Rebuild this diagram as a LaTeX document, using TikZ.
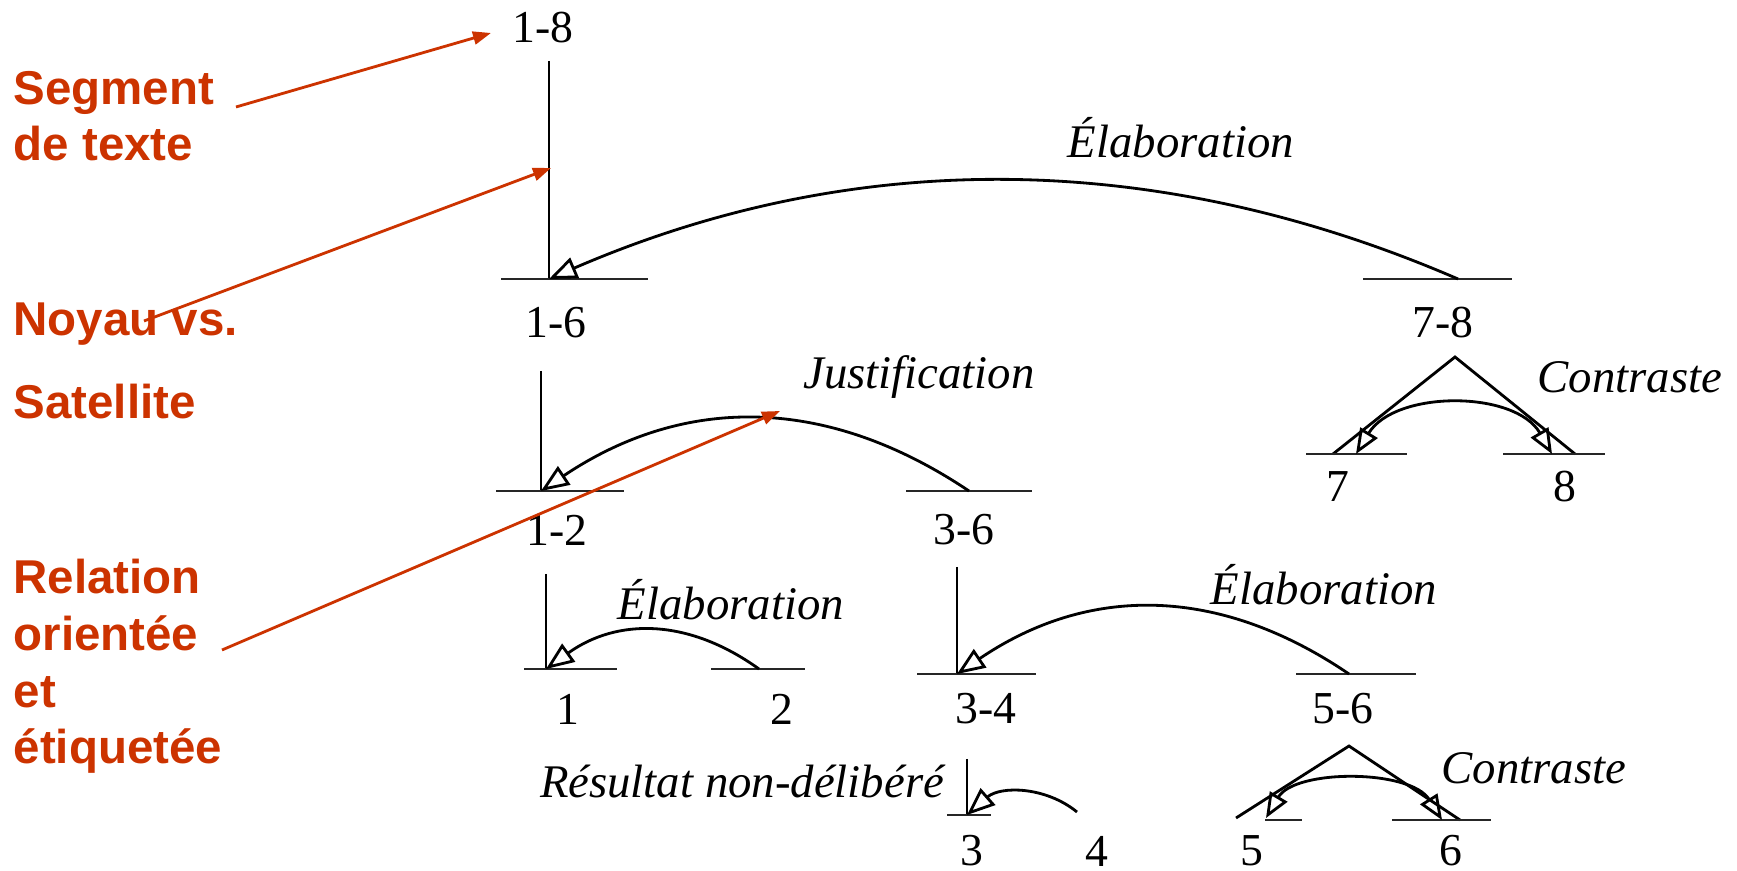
\documentclass[tikz,border=0pt]{standalone}
\usepackage{fontspec}
\setmainfont{Liberation Serif}
\newfontfamily\notefont{Liberation Sans}
\usetikzlibrary{arrows.meta}
\definecolor{notered}{RGB}{204,51,0}

\begin{document}
\begin{tikzpicture}[
  x=0.01cm, y=-0.01cm,
  seg/.style={line width=0.8pt},
  bar/.style={line width=0.8pt, black!85},
  rel/.style={line width=0.8pt, -{Triangle[open, length=2.8mm, width=2.2mm]}},
  multi/.style={line width=0.8pt,
    {Triangle[open, length=2.5mm, width=2mm]}-{Triangle[open, length=2.5mm, width=2mm]}},
  num/.style={font=\fontsize{13}{15}\selectfont, inner sep=0pt},
  rlab/.style={font=\fontsize{13.3}{15}\selectfont\itshape, inner sep=0pt},
  note/.style={font=\notefont\bfseries\fontsize{13.5}{16.2}\selectfont, text=notered,
    align=left, inner sep=0pt, anchor=base west},
  pointer/.style={draw=notered, line width=0.8pt, -{Triangle[length=1.8mm, width=1.3mm]}}
]
  \useasboundingbox (0,0) rectangle (1737,871);

  % --- span labels ------------------------------------------------------
  \node[num] (n18) at (543,28) {1-8};
  \node[num] (n16) at (556,323) {1-6};
  \node[num] (n78) at (1443,323) {7-8};
  \node[num] (n12) at (557,530) {1-2};
  \node[num] (n36) at (964,530) {3-6};
  \node[num] (n7) at (1338,487) {7};
  \node[num] (n8) at (1565,487) {8};
  \node[num] (n1) at (568,709) {1};
  \node[num] (n2) at (782,709) {2};
  \node[num] (n34) at (986,709) {3-4};
  \node[num] (n56) at (1343,709) {5-6};
  \node[num] (n3) at (972,851) {3};
  \node[num] (n4) at (1097,851) {4};
  \node[num] (n5) at (1252,851) {5};
  \node[num] (n6) at (1451,851) {6};

  % --- relation names ---------------------------------------------------
  \node[rlab] (rElabTop) at (1181,138) {Élaboration};
  \node[rlab] (rJust) at (919,377) {Justification};
  \node[rlab] (rContTop) at (1630,377) {Contraste};
  \node[rlab] (rElabL) at (731,600) {Élaboration};
  \node[rlab] (rElabR) at (1324,585) {Élaboration};
  \node[rlab] (rRes) at (742,782) {Résultat non-délibéré};
  \node[rlab] (rContLow) at (1534,768) {Contraste};

  % --- 1-8 : 1-6 <- 7-8 ------------------------------------------------
  \coordinate (t18) at (549,61);
  \coordinate (c16) at (549,279);
  \coordinate (c78) at (1458,279);
  \draw[seg] (t18) -- (c16);
  \draw[bar] (c16) ++(-48,0) -- ++(147,0);
  \draw[bar] (c78) ++(-95,0) -- ++(149,0);
  \draw[rel] (c78) .. controls (1155,148) and (852,148) .. (c16);

  % --- 7-8 : contrast, two nuclei ---------------------------------------
  \coordinate (a78) at (1455,357);
  \coordinate (f7) at (1333,454);
  \coordinate (f8) at (1575,454);
  \coordinate (m7) at (1356,454);
  \coordinate (m8) at (1552,454);
  \draw[seg] (f7) -- (a78) -- (f8);
  \draw[bar] (f7) ++(-27,0) -- ++(101,0);
  \draw[bar] (f8) ++(-72,0) -- ++(102,0);
  \draw[multi] (m7) .. controls (1395,390) and (1515,390) .. (m8);

  % --- 1-6 : 1-2 <- 3-6 ------------------------------------------------
  \coordinate (t16) at (541,371);
  \coordinate (c12) at (541,491);
  \coordinate (c36) at (969,491);
  \draw[seg] (t16) -- (c12);
  \draw[bar] (c12) ++(-45,0) -- ++(128,0);
  \draw[bar] (c36) ++(-63,0) -- ++(126,0);
  \draw[rel] (c36) .. controls (826,395) and (684,395) .. (c12);

  % --- 1-2 : 1 <- 2 ----------------------------------------------------
  \coordinate (t12) at (546,574);
  \coordinate (c1) at (546,669);
  \coordinate (c2) at (759,669);
  \draw[seg] (t12) -- (c1);
  \draw[bar] (c1) ++(-22,0) -- ++(93,0);
  \draw[bar] (c2) ++(-48,0) -- ++(94,0);
  \draw[rel] (c2) .. controls (688,618) and (617,618) .. (c1);

  % --- 3-6 : 3-4 <- 5-6 ------------------------------------------------
  \coordinate (t36) at (957,567);
  \coordinate (c34) at (957,674);
  \coordinate (c56) at (1349,674);
  \draw[seg] (t36) -- (c34);
  \draw[bar] (c34) ++(-40,0) -- ++(119,0);
  \draw[bar] (c56) ++(-53,0) -- ++(120,0);
  \draw[rel] (c56) .. controls (1218,585) and (1088,585) .. (c34);

  % --- 3-4 : 3 <- 4 ----------------------------------------------------
  \coordinate (t34) at (967,759);
  \coordinate (c3) at (967,815);
  \coordinate (c4) at (1077,812);
  \draw[seg] (t34) -- (c3);
  \draw[bar] (c3) ++(-20,0) -- ++(44,0);
  \draw[rel] (c4) .. controls (1045,786) and (1000,786) .. (c3);

  % --- 5-6 : contrast, two nuclei ---------------------------------------
  \coordinate (a56) at (1349,746);
  \coordinate (f5) at (1236,818);
  \coordinate (f6) at (1460,820);
  \coordinate (m5) at (1266,818);
  \coordinate (m6) at (1442,820);
  \draw[seg] (f5) -- (a56) -- (f6);
  \draw[bar] (m5) ++(-1,2) -- ++(37,0);
  \draw[bar] (f6) ++(-68,0) -- ++(99,0);
  \draw[multi] (m5) .. controls (1295,769) and (1410,769) .. (m6);

  % --- red notes on the left --------------------------------------------
  \node[note] (lblSeg) at (13,161) {Segment\\de texte};
  \node[note] (lblNoy) at (13,419) {Noyau vs.\\[7.4pt]Satellite};
  \node[note] (lblRel) at (13,764) {Relation\\orientée\\et\\étiquetée};

  \coordinate (pSeg) at (236,107);
  \coordinate (hSeg) at (491,33);
  \coordinate (pNoy) at (144,321);
  \coordinate (hNoy) at (551,168);
  \coordinate (pRel) at (222,650);
  \coordinate (hRel) at (780,411);
  \draw[pointer] (pSeg) -- (hSeg);
  \draw[pointer] (pNoy) -- (hNoy);
  \draw[pointer] (pRel) -- (hRel);
\end{tikzpicture}
\end{document}
